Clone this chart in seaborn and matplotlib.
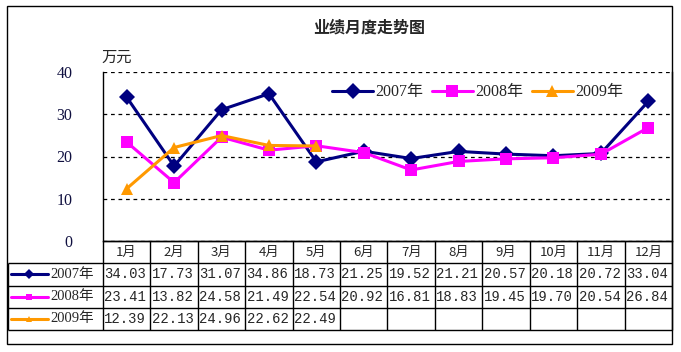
import numpy as np
import pandas as pd
import matplotlib
matplotlib.use('Agg')
import matplotlib.pyplot as plt
import seaborn as sns
from matplotlib.patches import Rectangle

months = ['1月', '2月', '3月', '4月', '5月', '6月', '7月', '8月', '9月', '10月', '11月', '12月']
years = ['2007年', '2008年', '2009年']
v2007 = [34.03, 17.73, 31.07, 34.86, 18.73, 21.25, 19.52, 21.21, 20.57, 20.18, 20.72, 33.04]
v2008 = [23.41, 13.82, 24.58, 21.49, 22.54, 20.92, 16.81, 18.83, 19.45, 19.70, 20.54, 26.84]
v2009 = [12.39, 22.13, 24.96, 22.62, 22.49]
colors = ['#000080', '#FF00FF', '#FF9900']
markers = ['D', 's', '^']

rows = []
for y, vals in zip(years, [v2007, v2008, v2009]):
    for i, v in enumerate(vals):
        rows.append({'idx': i, 'val': v, 'year': y})
df = pd.DataFrame(rows)

sns.set_style('white')
plt.rcParams['font.family'] = ['Noto Sans CJK SC', 'DejaVu Sans']
serif = ['Liberation Serif', 'Noto Sans CJK SC']

W, H = 681, 352
fig = plt.figure(figsize=(W / 100, H / 100), dpi=100)
fig.patch.set_facecolor('white')

ax = fig.add_axes([103 / W, 1 - 241 / H, 569 / W, 169 / H])
sns.lineplot(data=df, x='idx', y='val', hue='year', style='year', hue_order=years,
             style_order=years, palette=colors, markers=markers, dashes=False,
             linewidth=2.2, markersize=8, markeredgewidth=0, ax=ax, legend=True)
ax.set_xlim(-0.5, 11.5)
ax.set_ylim(0, 40)
ax.set_yticks([0, 10, 20, 30, 40])
ax.set_xticks([])
ax.set_xlabel('')
ax.set_ylabel('')
ax.yaxis.grid(True, linestyle=(0, (3, 3)), color='black', linewidth=0.9)
ax.set_axisbelow(True)
ax.spines['top'].set_visible(False)
for s in ['left', 'right', 'bottom']:
    ax.spines[s].set_color('black')
    ax.spines[s].set_linewidth(1)
ax.tick_params(axis='y', length=0, pad=22)
for t in ax.get_yticklabels():
    t.set_fontfamily(serif)
    t.set_fontsize(11.5)
    t.set_color('#101040')

handles, labels = ax.get_legend_handles_labels()
ax.legend(handles[-3:], labels[-3:], loc='center left', bbox_to_anchor=(0.402, 0.88),
          ncol=3, frameon=False, handlelength=2.6, columnspacing=0.5, handletextpad=0.15,
          borderpad=0, borderaxespad=0, prop={'family': serif, 'size': 11.5})

fig.text(369 / W, 1 - 28 / H, '业绩月度走势图', ha='center', va='center',
         fontsize=11.5, fontweight='bold')
fig.text(101 / W, 1 - 57 / H, '万元', ha='left', va='center', fontsize=11)

# data table under the chart
tax = fig.add_axes([8 / W, 1 - 330 / H, 664 / W, 89 / H])
tax.set_xlim(-2.5, 11.5)
tax.set_ylim(4, 0)
tax.axis('off')
lk = dict(color='black', linewidth=1, clip_on=False)
tax.hlines(0, -0.5, 11.5, **lk)
tax.hlines([1, 2, 3, 4], -2.5, 11.5, **lk)
tax.vlines(np.arange(13) - 0.5, 0, 4, **lk)
tax.vlines(-2.5, 1, 4, **lk)

for i, m in enumerate(months):
    tax.text(i, 0.5, m, ha='center', va='center', fontsize=9.5)
for r, (y, vals, c, mk) in enumerate(zip(years, [v2007, v2008, v2009], colors, markers)):
    yy = r + 1.5
    tax.plot([-2.44, -1.66], [yy, yy], color=c, linewidth=2.2, clip_on=False)
    tax.plot([-2.05], [yy], marker=mk, color=c, markersize=5, markeredgewidth=0, clip_on=False)
    tax.text(-1.6, yy, y, ha='left', va='center', fontsize=10.5, fontfamily=serif)
    for i, v in enumerate(vals):
        tax.text(i - 0.47, yy, f'{v:.2f}', ha='left', va='center', fontsize=10,
                 fontfamily=['Liberation Mono', 'DejaVu Sans'])

fig.patches.append(Rectangle((7 / W, 1 - 344 / H), 665 / W, 338 / H, fill=False,
                             edgecolor='black', linewidth=1, transform=fig.transFigure))

fig.savefig('out.png', dpi=100)
